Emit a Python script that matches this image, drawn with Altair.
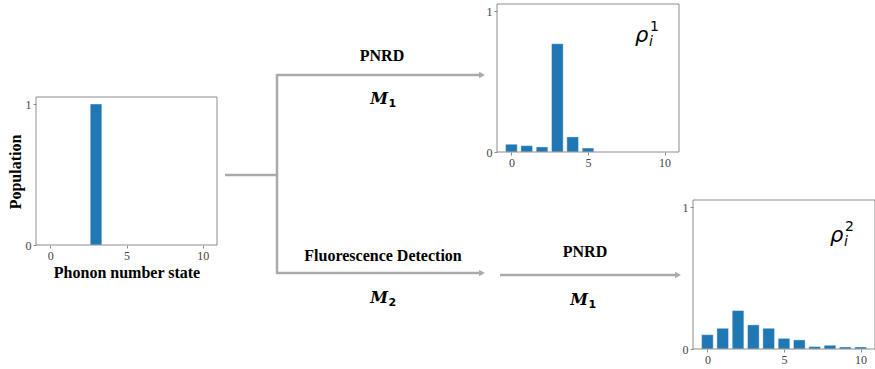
import altair as alt
import pandas as pd

# ---------------- data ----------------
states = list(range(11))
initial_pop = [0, 0, 0, 1.0, 0, 0, 0, 0, 0, 0, 0]
rho1_pop = [0.055, 0.045, 0.036, 0.768, 0.107, 0.028, 0, 0, 0, 0, 0]
rho2_pop = [0.101, 0.146, 0.271, 0.170, 0.146, 0.075, 0.064, 0.017, 0.026, 0.014, 0.014]
x_ticks = [0, 5, 10]
y_ticks = [0, 1]

x_title = "Phonon number state"
y_title = "Population"
lbl_pnrd = "PNRD"
lbl_fluo = "Fluorescence Detection"

# ---------------- style ----------------
W, H = 875, 369
BLUE = "#1f77b4"
GRAY = "#aaaaaa"
FRAME = "#8c8c8c"
XDOM = [-0.94, 10.94]
YDOM = [0, 1.05]
SERIF = "Liberation Serif"
MATH = "DejaVu Sans"


def panel(values, x0, x1, ytop, ybot):
    df = pd.DataFrame({"n": states, "p": values})
    xs = alt.Scale(domain=XDOM, range=[x0, x1], nice=False, zero=False)
    ys = alt.Scale(domain=YDOM, range=[ybot, ytop], nice=False, zero=False)
    ax_x = alt.Axis(orient="bottom", offset=ybot - H, values=x_ticks, domain=False,
                    grid=False, tickSize=3, tickColor=FRAME, labelPadding=2,
                    labelFont=SERIF, labelFontSize=12, labelColor="#444444",
                    title=None, format="d")
    ax_y = alt.Axis(orient="left", offset=-x0, values=y_ticks, domain=False,
                    grid=False, tickSize=3, tickColor=FRAME, labelPadding=2,
                    labelFont=SERIF, labelFontSize=12, labelColor="#444444",
                    title=None, format="d")
    bars = alt.Chart(df).transform_calculate(
        n0="datum.n - 0.38", n1="datum.n + 0.38", z="0"
    ).mark_rect(color=BLUE, stroke="white", strokeWidth=0.4).encode(
        x=alt.X("n0:Q", scale=xs, axis=ax_x),
        x2="n1:Q",
        y=alt.Y("p:Q", scale=ys, axis=ax_y),
        y2="z:Q",
    )
    fdf = pd.DataFrame({"a": [XDOM[0]], "b": [XDOM[1]], "c": [YDOM[0]], "d": [YDOM[1]]})
    frame = alt.Chart(fdf).mark_rect(fillOpacity=0, stroke=FRAME, strokeWidth=1).encode(
        x=alt.X("a:Q", scale=xs, axis=None),
        x2="b:Q",
        y=alt.Y("c:Q", scale=ys, axis=None),
        y2="d:Q",
    )
    return [bars, frame]


one = pd.DataFrame({"k": [0]})


def seg(xa, xb, ya, yb=None):
    enc = dict(x=alt.value(xa), x2=alt.value(xb), y=alt.value(ya))
    if yb is not None:
        enc["y2"] = alt.value(yb)
    return alt.Chart(one).mark_rule(color=GRAY, strokeWidth=2.5).encode(**enc)


def head(x, y):
    return alt.Chart(one).mark_point(shape="triangle-right", filled=True, color=GRAY,
                                     opacity=1, size=45).encode(x=alt.value(x), y=alt.value(y))


def txt(s, x, y, size=16, font=SERIF, weight="bold", style="normal", align="center",
        baseline="alphabetic", angle=0):
    return alt.Chart(pd.DataFrame({"t": [s]})).mark_text(
        font=font, fontSize=size, fontWeight=weight, fontStyle=style, align=align,
        baseline=baseline, angle=angle, color="black"
    ).encode(x=alt.value(x), y=alt.value(y), text="t:N")


def mlabel(sub, x, y):
    return [
        txt("M", x, y, size=16, font="DejaVu Serif", weight="bold", style="italic", align="right"),
        txt(sub, x + 0.5, y + 3, size=11, font=MATH, weight="bold", align="left"),
    ]


def rho(sup, x, y):
    return [
        txt("ρ", x, y, size=21, font=MATH, weight="normal", style="italic", align="left"),
        txt(sup, x + 15, y - 11, size=14, font=MATH, weight="normal", align="left"),
        txt("i", x + 14, y + 4, size=14, font=MATH, weight="normal", style="italic", align="left"),
    ]


layers = []
layers += panel(initial_pop, 36, 217, 97, 245)
layers += panel(rho1_pop, 497, 679, 4, 152)
layers += panel(rho2_pop, 693, 875, 200, 349)

# arrows
layers += [
    seg(225, 277, 175),
    seg(277, 277, 74, 274),
    seg(276, 480, 75),
    head(482, 75),
    seg(276, 480, 273),
    head(482, 273),
    seg(500, 676, 275),
    head(678, 275),
]

# texts
layers += [
    txt(lbl_pnrd, 382, 61),
    txt(lbl_fluo, 383, 261),
    txt(lbl_pnrd, 585, 257),
    txt(x_title, 127, 278),
    txt(y_title, 16, 172, baseline="middle", angle=270),
]
layers += mlabel("1", 388, 104)
layers += mlabel("2", 388, 303)
layers += mlabel("1", 588, 305)
layers += rho("1", 635, 42)
layers += rho("2", 830, 242)

chart = alt.layer(*layers).resolve_scale(x="independent", y="independent").properties(
    width=W, height=H, autosize="none", padding=0
).configure_view(stroke=None)

chart.save("out.html", embed_options={"renderer": "svg", "actions": False})
